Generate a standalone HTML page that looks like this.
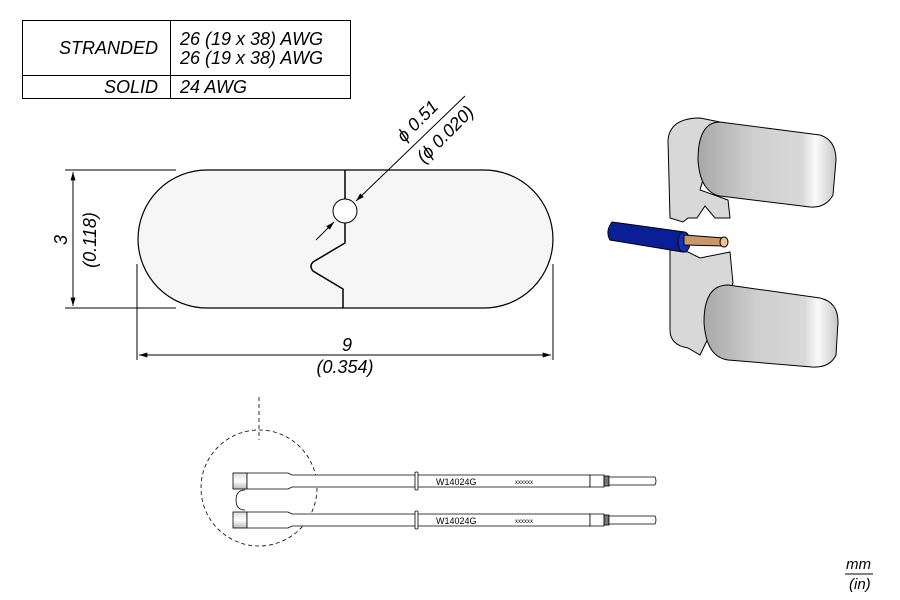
<!DOCTYPE html>
<html><head><style>body{margin:0;background:#fff}svg{display:block}text{font-family:"Liberation Sans",sans-serif;font-style:italic}</style></head><body>
<svg width="900" height="600" viewBox="0 0 900 600" xmlns="http://www.w3.org/2000/svg">
<defs>
<marker id="a" viewBox="0 0 10 6" refX="10" refY="3" markerWidth="14" markerHeight="5" orient="auto-start-reverse" markerUnits="userSpaceOnUse"><path d="M0,0L10,3L0,6z" fill="#000"/></marker>
<linearGradient id="cyl" x1="0" y1="0" x2="1" y2="0"><stop offset="0" stop-color="#a8a8a8"/><stop offset="0.4" stop-color="#cfcfcf"/><stop offset="0.75" stop-color="#d8d8d8"/><stop offset="0.85" stop-color="#fafafa"/><stop offset="1" stop-color="#c8c8c8"/></linearGradient>
<linearGradient id="tip" x1="0" y1="0" x2="0" y2="1"><stop offset="0" stop-color="#ddd"/><stop offset="0.5" stop-color="#fff"/><stop offset="1" stop-color="#bbb"/></linearGradient>
</defs>
<g fill="none" stroke="#000" stroke-width="1">
<rect x="22.5" y="20.5" width="328" height="78"/>
<line x1="22" y1="75.5" x2="350" y2="75.5"/>
<line x1="170.5" y1="20" x2="170.5" y2="98"/>
</g>
<g font-size="18">
<text x="158" y="54" text-anchor="end">STRANDED</text>
<text x="180" y="45">26 (19 x 38) AWG</text>
<text x="180" y="64">26 (19 x 38) AWG</text>
<text x="158" y="93" text-anchor="end">SOLID</text>
<text x="180" y="93">24 AWG</text>
</g>
<path d="M207,170H484A69,69 0 0 1 484,308H207A69,69 0 0 1 207,170Z" fill="#f6f6f6" stroke="#000" stroke-width="1.2"/>
<path d="M345,170V243L313,262Q309,266 313,271L343,289V308" fill="none" stroke="#000" stroke-width="1.5"/>
<circle cx="345" cy="211" r="12" fill="#fff" stroke="#000"/>
<line x1="465" y1="96" x2="356" y2="201" stroke="#000" marker-end="url(#a)"/>
<line x1="316" y1="240" x2="334" y2="222" stroke="#000" marker-end="url(#a)"/>
<g font-size="18">
<text transform="translate(404,143) rotate(-45)">ϕ 0.51</text>
<text transform="translate(424,164) rotate(-45)">(ϕ 0.020)</text>
</g>
<g stroke="#000" fill="none">
<line x1="65" y1="170" x2="176" y2="170"/><line x1="65" y1="308" x2="176" y2="308"/>
<line x1="73" y1="172" x2="73" y2="306" marker-start="url(#a)" marker-end="url(#a)"/>
<line x1="137" y1="264" x2="137" y2="360"/><line x1="553" y1="264" x2="553" y2="360"/>
<line x1="139" y1="355" x2="551" y2="355" marker-start="url(#a)" marker-end="url(#a)"/>
</g>
<g font-size="18">
<text transform="translate(67,240) rotate(-90)" text-anchor="middle">3</text>
<text transform="translate(96,240) rotate(-90)" text-anchor="middle">(0.118)</text>
<text x="347" y="351" text-anchor="middle">9</text>
<text x="345" y="373" text-anchor="middle">(0.354)</text>
</g>
<circle cx="259" cy="488" r="58" fill="none" stroke="#000" stroke-dasharray="4,3" stroke-width="0.8"/>
<line x1="259" y1="397" x2="259" y2="440" stroke="#000" stroke-dasharray="4,3" stroke-width="0.8"/>
<g stroke="#000" stroke-width="0.8">
<path d="M245,490Q236,490 236,500Q236,510 245,510" fill="#fff"/>
<rect x="233" y="473" width="14" height="16" fill="url(#tip)"/>
<rect x="233" y="512" width="14" height="16" fill="url(#tip)"/>
<path d="M247,473H288L292,475H590V487H292L288,489H247Z" fill="#fff"/>
<path d="M247,512H288L292,514H590V526H292L288,528H247Z" fill="#fff"/>
<path d="M590,475H604V487H590Z" fill="#fff"/>
<path d="M590,514H604V526H590Z" fill="#fff"/>
<rect x="604" y="476" width="5" height="10" fill="#777"/>
<rect x="604" y="515" width="5" height="10" fill="#777"/>
<path d="M609,477H655Q657,481 655,485H609Z" fill="#fff"/>
<path d="M609,516H655Q657,520 655,524H609Z" fill="#fff"/>
<rect x="415" y="472" width="3" height="18" rx="1" fill="#fff"/>
<rect x="415" y="511" width="3" height="18" rx="1" fill="#fff"/>
</g>
<g font-size="9">
<text x="436" y="485" style="font-style:normal">W14024G</text>
<text x="436" y="524" style="font-style:normal">W14024G</text>
<text x="515" y="484" font-size="6" style="font-style:normal">xxxxxx</text>
<text x="515" y="523" font-size="6" style="font-style:normal">xxxxxx</text>
</g>
<g stroke="#000" stroke-width="1">
<path d="M668,140Q670,118 700,118L720,122L700,190L728,200L730,218L715,218L705,206L697,218L688,218L683,222L670,218Z" fill="#d8d8d8"/>
<path d="M670,250L688,252L700,258L730,252L733,283L712,330L700,355L688,348Q670,345 670,330Z" fill="#d8d8d8"/>
<path d="M720,122L820,135Q836,140 836,160L833,195Q826,208 810,207L720,196Q700,192 698,160Q698,122 720,122Z" fill="url(#cyl)"/>
<path d="M728,285L820,298Q838,302 838,322L836,355Q830,368 812,367L728,360Q706,357 704,322Q704,285 728,285Z" fill="url(#cyl)"/>
<path d="M612,222L685,232L683,252L610,240Q605,231 612,222Z" fill="#0a1e96"/>
<ellipse cx="684" cy="242" rx="6" ry="10" fill="#1030c0"/>
<path d="M684,235L724,238L724,246L684,245Z" fill="#c9976a"/>
<ellipse cx="724" cy="242" rx="4" ry="5" fill="#f0c090"/>
</g>
<g font-size="15">
<text x="846" y="569">mm</text>
<line x1="845" y1="574" x2="873" y2="574" stroke="#000"/>
<text x="849" y="589">(in)</text>
</g>
</svg>
</body></html>
